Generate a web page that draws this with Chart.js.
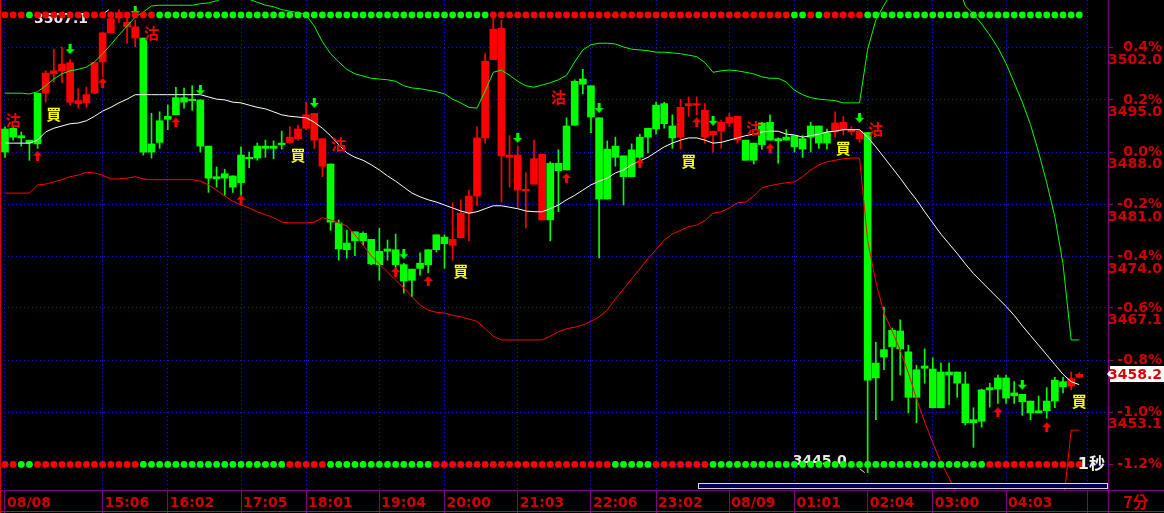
<!DOCTYPE html>
<html><head><meta charset="utf-8">
<script src="https://cdn.jsdelivr.net/npm/chart.js@4.4.1/dist/chart.umd.min.js"></script>
<style>html,body{margin:0;padding:0;background:#000;overflow:hidden}#wrap{position:relative;width:1164px;height:513px}</style>
</head><body><div id="wrap"><canvas id="c" width="1164" height="513"></canvas></div>
<script>
const openP = [3491.1,3491.2,3490.2,3489.6,3495.9,3495.9,3498.5,3498.9,3494.7,3494.5,
3494.6,3495.9,3500.1,3504.0,3506.0,3504.8,3503.3,3503.3,3489.1,3492.2,
3492.8,3495.3,3495.3,3495.1,3495.0,3488.8,3484.7,3485.1,3484.8,3487.6,
3487.3,3488.8,3488.8,3488.8,3489.2,3489.3,3489.8,3491.2,3489.6,3486.1,
3486.4,3478.5,3475.8,3477.3,3477.1,3476.3,3474.7,3475.0,3474.9,3472.9,
3472.3,3473.1,3474.9,3476.9,3476.6,3475.5,3476.5,3479.8,3482.1,3489.9,
3500.4,3487.5,3487.3,3482.9,3482.8,3483.7,3478.9,3486.5,3486.5,3491.5,
3497.5,3497.8,3496.9,3492.6,3488.4,3488.8,3487.5,3488.3,3490.0,3491.2,
3494.3,3494.5,3491.5,3490.0,3494.2,3494.3,3490.0,3490.3,3490.8,3491.9,
3489.6,3489.6,3489.2,3491.9,3492.0,3489.8,3490.0,3490.2,3489.8,3491.5,
3491.5,3490.6,3490.7,3491.0,3490.7,3489.8,3490.6,3459.7,3461.5,3464.1,
3464.0,3461.2,3458.8,3459.3,3458.9,3458.5,3458.5,3458.5,3456.9,3452.1,
3456.1,3456.4,3457.7,3457.7,3455.7,3455.5,3454.6,3453.3,3454.6,3457.4,
3457.2,3456.6,3457.8];
const highP = [3491.4,3491.5,3490.7,3489.6,3495.9,3498.9,3501.8,3502.1,3500.4,3496.5,
3496.7,3500.0,3504.1,3506.7,3507.1,3506.0,3505.7,3503.3,3493.2,3493.4,
3494.3,3496.7,3496.6,3496.9,3495.0,3488.8,3486.0,3485.7,3484.8,3488.7,
3488.0,3489.2,3489.6,3489.5,3490.8,3491.4,3491.6,3494.7,3493.2,3489.8,
3486.4,3478.9,3477.5,3477.3,3477.3,3476.3,3477.8,3476.2,3477.0,3473.1,
3472.3,3474.5,3474.9,3476.9,3476.9,3481.2,3481.6,3482.9,3491.4,3501.2,
3506.0,3505.7,3490.2,3488.8,3485.2,3489.6,3487.7,3486.7,3488.3,3492.6,
3497.7,3499.1,3496.9,3492.6,3489.5,3490.0,3487.5,3489.1,3490.4,3491.2,
3494.7,3494.7,3493.0,3495.1,3495.4,3495.4,3494.5,3490.8,3492.3,3493.2,
3492.8,3489.6,3489.2,3492.0,3493.0,3489.9,3491.0,3490.2,3490.2,3492.0,
3491.5,3491.1,3493.4,3492.8,3491.4,3491.0,3490.6,3462.5,3467.2,3464.4,
3465.5,3462.1,3459.4,3461.6,3460.4,3459.7,3459.7,3458.5,3458.5,3453.7,
3456.2,3457.0,3458.1,3458.1,3457.2,3455.5,3454.6,3455.3,3456.4,3457.8,
3457.8,3458.5,3458.4];
const lowP = [3487.3,3489.6,3488.8,3486.9,3488.5,3494.7,3497.4,3497.3,3494.3,3493.9,
3494.0,3495.8,3498.1,3504.0,3505.4,3502.6,3502.1,3487.6,3487.2,3488.5,
3491.0,3493.0,3493.9,3493.6,3488.0,3482.6,3483.3,3482.2,3482.6,3482.2,
3485.9,3486.9,3487.3,3487.1,3488.4,3489.2,3489.6,3491.0,3488.5,3484.7,
3477.5,3473.5,3473.8,3474.1,3475.5,3472.9,3470.8,3473.5,3471.8,3469.1,
3468.6,3471.5,3471.8,3474.6,3472.4,3473.5,3476.5,3476.1,3480.8,3489.2,
3500.4,3481.3,3483.3,3480.5,3477.8,3483.7,3478.9,3476.1,3480.0,3485.6,
3491.6,3495.8,3490.6,3473.8,3481.7,3486.1,3480.9,3484.7,3486.8,3487.9,
3490.4,3491.2,3488.5,3488.4,3492.8,3493.0,3489.2,3488.0,3488.5,3491.4,
3489.2,3486.9,3486.4,3488.4,3489.6,3486.5,3489.6,3488.0,3487.3,3488.0,
3488.5,3488.4,3490.0,3490.3,3490.3,3489.3,3445.0,3452.1,3458.8,3454.7,
3458.1,3453.0,3451.7,3457.0,3453.7,3453.7,3454.1,3455.1,3451.4,3448.4,
3451.1,3453.8,3454.3,3454.3,3454.3,3452.7,3452.1,3453.0,3452.3,3453.7,
3455.7,3456.1,3457.7];
const closeP = [3488.0,3490.0,3489.9,3489.2,3489.1,3498.6,3498.9,3499.8,3500.0,3494.9,
3495.7,3500.0,3504.0,3505.9,3506.7,3505.4,3504.8,3488.0,3488.0,3489.3,
3492.4,3493.0,3494.7,3494.9,3488.8,3484.5,3484.4,3484.5,3483.3,3483.9,
3487.1,3487.2,3488.5,3488.5,3489.0,3490.0,3491.1,3493.0,3493.2,3489.8,
3478.6,3475.0,3474.9,3476.1,3476.1,3473.0,3472.9,3474.7,3472.9,3470.7,
3470.8,3472.4,3472.9,3474.9,3475.7,3476.3,3479.8,3482.1,3489.9,3500.2,
3504.5,3504.6,3487.6,3487.6,3483.0,3487.1,3487.7,3478.9,3485.5,3485.6,
3491.6,3497.1,3492.7,3481.7,3481.7,3487.3,3484.7,3484.7,3487.3,3490.0,
3491.1,3491.8,3489.9,3494.0,3494.5,3494.5,3493.6,3490.8,3492.0,3492.7,
3492.8,3486.9,3486.9,3489.0,3489.6,3489.5,3489.6,3488.7,3488.4,3490.0,
3489.2,3489.2,3491.9,3492.0,3491.0,3490.8,3457.4,3457.7,3460.5,3461.9,
3461.6,3455.1,3455.1,3459.0,3453.7,3453.7,3458.1,3457.0,3451.7,3451.7,
3451.9,3456.1,3456.2,3455.0,3455.3,3454.5,3453.0,3453.0,3453.3,3454.6,
3456.5,3457.6,3458.2];
const midBand = [3489.2,3489.2,3489.2,3489.2,3489.6,3490.7,3491.2,3491.5,3491.8,3491.9,
3492.2,3492.8,3493.5,3494.0,3494.6,3495.1,3495.7,3495.7,3495.7,3495.7,
3495.7,3495.7,3495.7,3495.7,3495.7,3495.4,3495.1,3495.0,3494.7,3494.6,
3494.3,3494.0,3493.8,3493.4,3493.0,3492.8,3492.7,3492.6,3492.0,3491.2,
3490.2,3489.0,3487.9,3487.3,3486.9,3486.3,3485.6,3484.8,3484.1,3483.3,
3482.5,3482.0,3481.6,3481.3,3480.9,3480.5,3480.1,3479.8,3480.0,3480.4,
3480.8,3480.8,3480.6,3480.4,3480.1,3480.0,3480.0,3480.4,3480.9,3481.6,
3482.2,3482.9,3483.6,3484.1,3484.5,3485.2,3485.6,3486.3,3486.8,3487.3,
3488.0,3488.7,3489.2,3489.6,3489.9,3489.9,3489.6,3489.2,3489.3,3489.6,
3489.9,3490.2,3490.4,3490.7,3490.8,3490.8,3490.4,3490.3,3490.0,3490.2,
3490.4,3490.7,3490.8,3491.0,3491.0,3491.0,3490.0,3488.7,3487.3,3485.9,
3484.5,3483.0,3481.6,3480.0,3478.5,3477.0,3475.7,3474.4,3473.0,3471.7,
3470.6,3469.5,3468.4,3467.3,3466.1,3464.7,3463.4,3462.1,3460.8,3459.5,
3458.2,3457.2,3456.8];
const upperBand = [3495.9,3495.9,3495.9,3495.8,3496.1,3496.9,3497.8,3498.5,3498.9,3499.1,
3499.4,3500.1,3501.2,3502.4,3503.7,3504.9,3506.1,3506.8,3507.6,3507.7,
3507.7,3507.7,3507.7,3507.7,3507.9,3508.0,3508.3,3508.7,3508.8,3508.8,
3508.5,3508.1,3507.7,3507.5,3507.1,3506.9,3506.7,3506.4,3504.9,3502.8,
3501.2,3500.1,3499.1,3498.5,3498.2,3497.9,3497.8,3497.7,3497.5,3496.9,
3496.6,3496.5,3496.3,3496.1,3495.8,3495.1,3494.6,3494.0,3493.9,3496.2,
3498.7,3499.0,3498.3,3497.5,3496.9,3496.7,3497.0,3497.3,3497.7,3498.3,
3500.1,3501.7,3502.4,3502.6,3502.6,3502.5,3502.1,3501.8,3501.7,3501.6,
3501.4,3501.4,3501.3,3501.2,3501.0,3500.8,3500.0,3498.7,3498.9,3499.0,
3498.9,3498.7,3498.5,3498.1,3497.9,3497.9,3497.4,3496.3,3495.7,3495.3,
3495.1,3495.0,3494.9,3494.6,3494.6,3494.6,3501.8,3505.7,3507.7,3509.5,
3511.1,3512.4,3513.5,3514.0,3514.0,3513.5,3512.4,3510.8,3507.6,3506.5,
3505.2,3503.7,3502.0,3499.9,3497.3,3494.7,3491.7,3488.0,3483.9,3479.3,
3473.0,3462.8,3462.8];
const lowerBand = [3482.5,3482.5,3482.5,3482.5,3483.6,3483.7,3484.0,3484.3,3484.7,3484.9,
3485.3,3485.2,3484.9,3484.4,3484.4,3484.5,3484.7,3484.4,3484.3,3484.3,
3484.3,3484.3,3484.3,3484.3,3484.1,3483.6,3482.9,3482.1,3481.4,3480.9,
3480.5,3480.0,3479.6,3479.2,3478.6,3478.5,3478.5,3478.5,3478.6,3479.2,
3478.9,3478.5,3478.1,3476.9,3475.5,3474.1,3473.0,3471.9,3470.8,3469.8,
3468.6,3467.5,3466.8,3466.5,3466.4,3466.1,3465.9,3465.6,3465.3,3464.3,
3463.3,3462.8,3462.8,3462.8,3462.8,3462.8,3462.8,3463.3,3463.9,3464.3,
3464.5,3464.8,3465.3,3465.9,3466.8,3468.3,3469.6,3471.0,3472.3,3473.7,
3474.9,3476.2,3477.0,3477.5,3478.0,3478.2,3478.8,3479.8,3480.0,3480.5,
3481.2,3481.3,3482.1,3483.2,3483.5,3483.7,3483.9,3484.0,3484.7,3485.6,
3486.3,3486.7,3486.9,3487.1,3487.2,3487.2,3476.1,3470.6,3466.4,3464.0,
3461.4,3458.4,3454.9,3451.8,3449.0,3446.4,3444.3,3442.1,3439.5,3437.0,
3434.8,3433.0,3431.5,3430.3,3429.6,3429.4,3429.8,3430.8,3432.4,3434.6,
3440.2,3450.7,3450.7];
// R = red dot, G = green dot (one per bar)
const topDots = ("RRR G RRRRRRRRRRRRRRR GGGGGGGGGGGGGGGGGGGGGGGGGGGGGGGGGGGGGGGGG " +
  "RRRRRRRRRRRRRRRRRRRRRRRRRRRRRRRRRRRRR GG R G RRRRR GGGGGGGGGGGGGGGGGGGGGGGGGGG").replace(/ /g,'');
const bottomDots = ("RR GG RRRRRRRRRRRRR GGGGGGGGGGGGGGGGGG RRRRR GGGGGGGGGGGGG RRRRRRRRRRRRRRRRRRRRRR " +
  "GGGGG RRRRRRR GGGGGGGGGGGGGGGGGGGGGGGGGGGGGGGGGG RRRRRRRRRRRR").replace(/ /g,'');
const topDotLevel = 3506.4, bottomDotLevel = 3446.1;
const timeTickIdx = [0,12,20,29,37,46,54,63,72,80,89,97,106,114,123,133];
const timeTickLabels = ['08/08','15:06','16:02','17:05','18:01','19:04','20:00','21:03','22:06','23:02','08/09','01:01','02:04','03:00','04:03',''];
const priceTicks = [3502.0,3495.0,3488.0,3481.0,3474.0,3467.1,3460.1,3453.1,3446.1];
const pctLabels = ['0.4%','0.2%','0.0%','-0.2%','-0.4%','-0.6%','-0.8%','-1.0%','-1.2%'];
const priceLabels = ['3502.0','3495.0','3488.0','3481.0','3474.0','3467.1','3460.1','3453.1',''];
const buyIdx = [6,36,56,84,103,132];
const buyPos = [3493.1,3487.6,3472.0,3486.8,3488.5,3454.6];
const sellIdx = [1,18,41,68,92,107];
const sellPos = [3492.3,3504.0,3489.0,3495.3,3491.2,3491.0];
const upIdx = [4,12,21,29,48,52,69,78,85,94,122,128];
const upPos = [3487.5,3497.3,3492.0,3481.6,3471.9,3470.7,3484.5,3486.5,3492.0,3488.5,3453.1,3451.1];
const downIdx = [8,16,24,38,49,63,73,87,105,125];
const downPos = [3501.8,3506.9,3496.3,3494.6,3474.3,3489.9,3493.9,3492.2,3492.6,3456.8];

const RED = '#ff0000', GREEN = '#00ff00';
const X_MIN = -0.614, X_MAX = 135.53;
const Y_MAX = 3508.4, Y_MIN = 3442.67;
const candleColor = closeP.map((c, i) => c >= openP[i] ? RED : GREEN);

function arrowCanvas(color, up) {
  const c = document.createElement('canvas'); c.width = 9; c.height = 10;
  const g = c.getContext('2d'); g.fillStyle = color;
  if (up) { g.beginPath(); g.moveTo(4.5, 0); g.lineTo(9, 5); g.lineTo(0, 5); g.closePath(); g.fill(); g.fillRect(3, 5, 3, 5); }
  else { g.fillRect(3, 0, 3, 5); g.beginPath(); g.moveTo(0, 5); g.lineTo(9, 5); g.lineTo(4.5, 10); g.closePath(); g.fill(); }
  return c;
}

const bgPlugin = { id: 'bg', beforeDraw(chart) { const c = chart.ctx; c.save(); c.fillStyle = '#000'; c.fillRect(0, 0, chart.width, chart.height); c.restore(); } };

const annoPlugin = {
  id: 'anno',
  beforeDatasetsDraw(chart) {
    const { ctx, scales: { x, y } } = chart;
    let hiI = 0, loI = 0;
    for (let i = 1; i < highP.length; i++) { if (highP[i] > highP[hiI]) hiI = i; if (lowP[i] < lowP[loI]) loI = i; }
    ctx.save();
    ctx.font = 'bold 14px "DejaVu Sans"'; ctx.fillStyle = '#e8e8e8';
    ctx.textAlign = 'right'; ctx.textBaseline = 'middle';
    const hx = x.getPixelForValue(hiI), hy = y.getPixelForValue(highP[hiI]);
    ctx.fillText(highP[hiI].toFixed(1), hx - 31, hy + 10);
    const lx = x.getPixelForValue(loI), ly = y.getPixelForValue(lowP[loI]);
    ctx.fillText(lowP[loI].toFixed(1), lx - 21, ly - 11);
    ctx.strokeStyle = '#e8e8e8'; ctx.lineWidth = 1;
    ctx.beginPath(); ctx.moveTo(hx - 14, hy + 3); ctx.lineTo(hx - 10, hy); ctx.stroke();
    ctx.beginPath(); ctx.moveTo(lx - 8, ly - 4); ctx.lineTo(lx - 3, ly); ctx.stroke();
    ctx.restore();
  },
  afterDatasetsDraw(chart) {
    const { ctx, scales: { x, y } } = chart;
    ctx.save();
    ctx.font = 'bold 15px "Noto Sans CJK TC"'; ctx.textAlign = 'center'; ctx.textBaseline = 'middle';
    ctx.fillStyle = '#ffff00';
    buyIdx.forEach((i, k) => ctx.fillText('買', x.getPixelForValue(i), y.getPixelForValue(buyPos[k])));
    ctx.fillStyle = '#ff0000';
    sellIdx.forEach((i, k) => ctx.fillText('沽', x.getPixelForValue(i), y.getPixelForValue(sellPos[k])));
    ctx.restore();
  },
  afterDraw(chart) {
    const { ctx, scales: { x, y } } = chart;
    const ca = chart.chartArea;
    ctx.save();
    ctx.fillStyle = '#000050'; ctx.fillRect(698, ca.bottom - 6, 410, 5);
    ctx.strokeStyle = '#d8d8d8'; ctx.lineWidth = 1; ctx.strokeRect(698.5, ca.bottom - 6.5, 409, 5);
    ctx.font = 'bold 16px "DejaVu Sans", "Noto Sans CJK TC"'; ctx.fillStyle = '#f0f0f0';
    ctx.textAlign = 'right'; ctx.textBaseline = 'middle';
    ctx.fillText('1秒', ca.right - 3, y.getPixelForValue(bottomDotLevel));
    const last = closeP[closeP.length - 1];
    const py = Math.round(y.getPixelForValue(last));
    ctx.fillStyle = '#ffffff';
    ctx.fillRect(ca.right + 2, py - 8, 54, 16);
    ctx.beginPath(); ctx.moveTo(ca.right + 2, py - 4); ctx.lineTo(ca.right - 1, py); ctx.lineTo(ca.right + 2, py + 4); ctx.closePath(); ctx.fill();
    ctx.fillStyle = '#e00000'; ctx.font = 'bold 14px "DejaVu Sans"';
    ctx.fillText(last.toFixed(1), 1162, py + 1);
    ctx.font = 'bold 16px "Noto Sans CJK TC"'; ctx.textAlign = 'center'; ctx.fillStyle = '#d00000';
    ctx.fillText('7分', 1136, (ca.bottom + 513) / 2);
    ctx.strokeStyle = '#800080';
    ctx.beginPath(); ctx.moveTo(ca.right, ca.bottom + 0.5); ctx.lineTo(1164, ca.bottom + 0.5); ctx.stroke();
    ctx.beginPath(); ctx.moveTo(ca.right + 0.5, ca.bottom); ctx.lineTo(ca.right + 0.5, 513); ctx.stroke();
    ctx.strokeStyle = '#e00000';
    ctx.beginPath(); ctx.moveTo(0.5, 0); ctx.lineTo(0.5, 513); ctx.stroke();
    ctx.beginPath(); ctx.moveTo(0, 511.5); ctx.lineTo(1164, 511.5); ctx.stroke();
    ctx.restore();
  }
};

new Chart(document.getElementById('c'), {
  type: 'bar',
  data: {
    datasets: [
      { type: 'scatter', label: 'topDots', data: topDots.split('').map((_, i) => ({ x: i, y: topDotLevel })),
        pointRadius: 3.4, pointBorderWidth: 0, pointBackgroundColor: topDots.split('').map(ch => ch === 'R' ? RED : GREEN), order: 1 },
      { type: 'scatter', label: 'bottomDots', data: bottomDots.split('').map((_, i) => ({ x: i, y: bottomDotLevel })),
        pointRadius: 3.4, pointBorderWidth: 0, pointBackgroundColor: bottomDots.split('').map(ch => ch === 'R' ? RED : GREEN), order: 1 },
      { type: 'scatter', label: 'up', data: upIdx.map((v, k) => ({ x: v, y: upPos[k] })), pointStyle: arrowCanvas(RED, true), order: 2 },
      { type: 'scatter', label: 'down', data: downIdx.map((v, k) => ({ x: v, y: downPos[k] })), pointStyle: arrowCanvas(GREEN, false), order: 2 },
      { type: 'line', label: 'mid', data: midBand.map((v, i) => ({ x: i, y: v })), borderColor: '#ffffff', borderWidth: 1, pointRadius: 0, tension: 0, order: 3 },
      { type: 'line', label: 'upper', data: upperBand.map((v, i) => ({ x: i, y: v })), borderColor: '#00ff00', borderWidth: 1, pointRadius: 0, tension: 0, order: 3 },
      { type: 'line', label: 'lower', data: lowerBand.map((v, i) => ({ x: i, y: v })), borderColor: '#ff0000', borderWidth: 1, pointRadius: 0, tension: 0, order: 3 },
      { type: 'bar', label: 'body', data: openP.map((o, i) => ({ x: i, y: [Math.min(o, closeP[i]), Math.max(o, closeP[i])] })),
        backgroundColor: candleColor, borderWidth: 0, barThickness: 7, minBarLength: 1, grouped: false, order: 4 },
      { type: 'bar', label: 'wick', data: lowP.map((l, i) => ({ x: i, y: [l, highP[i]] })),
        backgroundColor: candleColor, borderWidth: 0, barThickness: 1, grouped: false, order: 5 }
    ]
  },
  options: {
    responsive: false, animation: false, devicePixelRatio: 1,
    layout: { autoPadding: false, padding: { left: 0, right: 2, top: 0, bottom: 0 } },
    plugins: { legend: { display: false }, tooltip: { enabled: false } },
    scales: {
      x: {
        type: 'linear', position: 'bottom', min: X_MIN, max: X_MAX, offset: false,
        afterBuildTicks: s => { s.ticks = timeTickIdx.map(v => ({ value: v })); },
        afterFit: s => { s.height = 23; s.paddingLeft = 0; s.paddingRight = 0; },
        grid: { color: '#1414d2', lineWidth: 1, tickColor: '#800080', tickLength: 23, tickBorderDash: [], offset: false },
        border: { color: '#800080', width: 1, dash: [1, 3] },
        ticks: { autoSkip: false, maxRotation: 0, minRotation: 0, align: 'start', labelOffset: 2, padding: -18, color: '#d00000',
          font: { family: 'DejaVu Sans', size: 14, weight: 'bold' },
          callback: v => { const k = timeTickIdx.indexOf(v); return k >= 0 ? timeTickLabels[k] : ''; } }
      },
      y: {
        type: 'linear', position: 'right', min: Y_MIN, max: Y_MAX, beginAtZero: false,
        afterBuildTicks: s => { s.ticks = priceTicks.map(v => ({ value: v })); },
        afterFit: s => { s.width = 54; s.paddingTop = 0; s.paddingBottom = 0; },
        grid: { color: '#1414d2', lineWidth: 1, tickColor: '#800080', tickLength: 5, tickBorderDash: [] },
        border: { color: '#800080', width: 1, dash: [1, 3] },
        ticks: { crossAlign: 'far', padding: -5, color: '#d00000',
          font: { family: 'DejaVu Sans', size: 14, weight: 'bold', lineHeight: 0.9 },
          callback: v => { const k = priceTicks.indexOf(v); return ['', pctLabels[k], priceLabels[k]]; } }
      }
    }
  },
  plugins: [bgPlugin, annoPlugin]
});
</script></body></html>
